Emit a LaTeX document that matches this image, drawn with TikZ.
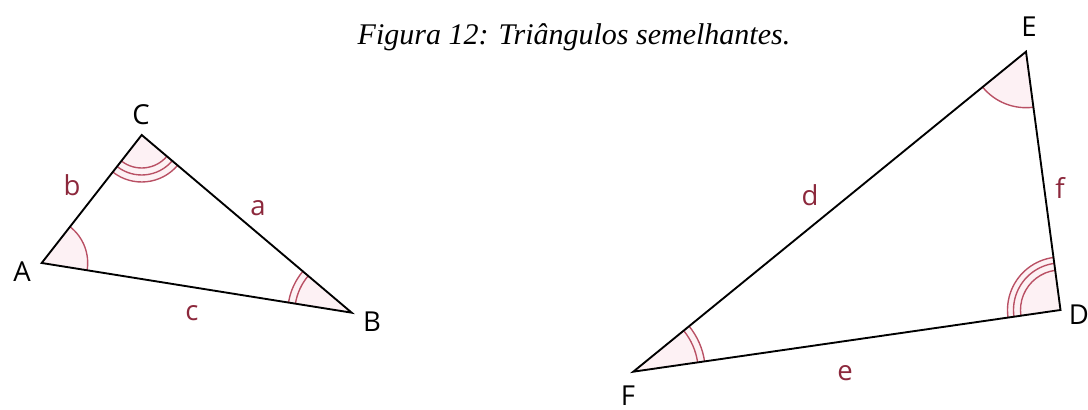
\documentclass[tikz,border=0pt]{standalone}
\usepackage{fontspec}
\setmainfont{Liberation Serif}
\setsansfont{Open Sans}
\usetikzlibrary{angles}
\definecolor{sidered}{RGB}{140,40,60}
\definecolor{arcred}{RGB}{185,80,100}
\definecolor{arcfill}{RGB}{253,241,244}
\tikzset{
  side/.style={line width=0.75pt, line join=miter},
  vtx/.style={font=\sffamily\fontsize{11}{13}\selectfont, inner sep=0pt},
  lbl/.style={font=\sffamily\fontsize{11}{13}\selectfont, text=sidered, inner sep=0pt},
  ang/.style={draw=arcred, line width=0.55pt},
  angfill/.style={fill=arcfill},
}

\begin{document}
\begin{tikzpicture}[x=0.4pt, y=-0.4pt]
  \useasboundingbox (0,0) rectangle (1088,410);
  \node[font=\itshape\fontsize{12}{14}\selectfont] (title) at (574,37) {Figura 12: Triângulos semelhantes.};
  % first triangle
  \coordinate (A) at (41.7,263);
  \coordinate (C) at (141.7,135);
  \coordinate (B) at (351.7,312.7);
  \pic[angfill, angle radius=18.4pt] {angle=B--A--C};
  \pic[angfill, angle radius=18.8pt] {angle=A--C--B};
  \pic[angfill, angle radius=25.6pt] {angle=C--B--A};
  \pic[ang, angle radius=18.4pt] {angle=B--A--C};
  \foreach \r in {13.2,16,18.8}
    \pic[ang, angle radius=\r pt] {angle=A--C--B};
  \foreach \r in {22.8,25.6}
    \pic[ang, angle radius=\r pt] {angle=C--B--A};
  \draw[side] (A) -- (B) -- (C) -- cycle;
  \node[vtx] (lA) at (22,272) {A};
  \node[vtx] (lC) at (141,115) {C};
  \node[vtx] (lB) at (372,322) {B};
  \node[lbl] (sb) at (72,185) {b};
  \node[lbl] (sa) at (258,208) {a};
  \node[lbl] (sc) at (192,313) {c};
  % second triangle
  \coordinate (E) at (1026,51.7);
  \coordinate (D) at (1060.5,310);
  \coordinate (F) at (633.3,371.7);
  \pic[angfill, angle radius=22.4pt] {angle=F--E--D};
  \pic[angfill, angle radius=21.2pt] {angle=E--D--F};
  \pic[angfill, angle radius=28.8pt] {angle=D--F--E};
  \pic[ang, angle radius=22.4pt] {angle=F--E--D};
  \foreach \r in {16,18.8,21.2}
    \pic[ang, angle radius=\r pt] {angle=E--D--F};
  \foreach \r in {26,28.8}
    \pic[ang, angle radius=\r pt] {angle=D--F--E};
  \draw[side] (F) -- (D) -- (E) -- cycle;
  \node[vtx] (lE) at (1029,27) {E};
  \node[vtx] (lD) at (1079,315) {D};
  \node[vtx] (lF) at (628,396) {F};
  \node[lbl] (sd) at (810,195) {d};
  \node[lbl] (sf) at (1060,188) {f};
  \node[lbl] (se) at (845,373) {e};
\end{tikzpicture}
\end{document}
